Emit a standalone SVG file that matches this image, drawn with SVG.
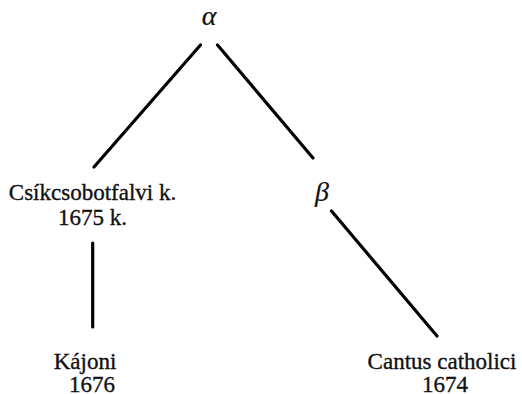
<svg xmlns="http://www.w3.org/2000/svg" width="522" height="394" viewBox="0 0 522 394">
  <style>
    .lbl { font-family: "Liberation Serif", "Times New Roman", serif; font-size: 23px; fill: #111; stroke: #111; stroke-width: 0.35; text-anchor: middle; }
    .greek { font-style: italic; font-size: 28px; stroke-width: 0.2; }
    .edge { stroke: #000; stroke-width: 3.2; stroke-linecap: round; fill: none; }
  </style>
  <rect width="522" height="394" fill="#fff"/>
  <g id="connectors">
    <line class="edge" x1="200.5" y1="45" x2="94" y2="167"/>
    <line class="edge" x1="217.5" y1="45" x2="313" y2="158"/>
    <line class="edge" x1="92.7" y1="243" x2="92.7" y2="327"/>
    <line class="edge" x1="331.5" y1="211" x2="437" y2="336"/>
  </g>
  <g id="alpha">
    <text class="lbl greek" x="209" y="25">α</text>
  </g>
  <g id="csikcsobotfalvi">
    <text class="lbl" x="92.5" y="200">Csíkcsobotfalvi k.</text>
    <text class="lbl" x="92.5" y="225">1675 k.</text>
  </g>
  <g id="beta">
    <text class="lbl greek" x="322" y="201">β</text>
  </g>
  <g id="kajoni">
    <text class="lbl" x="85" y="369">Kájoni</text>
    <text class="lbl" x="92" y="392">1676</text>
  </g>
  <g id="cantus">
    <text class="lbl" x="442" y="369">Cantus catholici</text>
    <text class="lbl" x="445" y="392">1674</text>
  </g>
</svg>
